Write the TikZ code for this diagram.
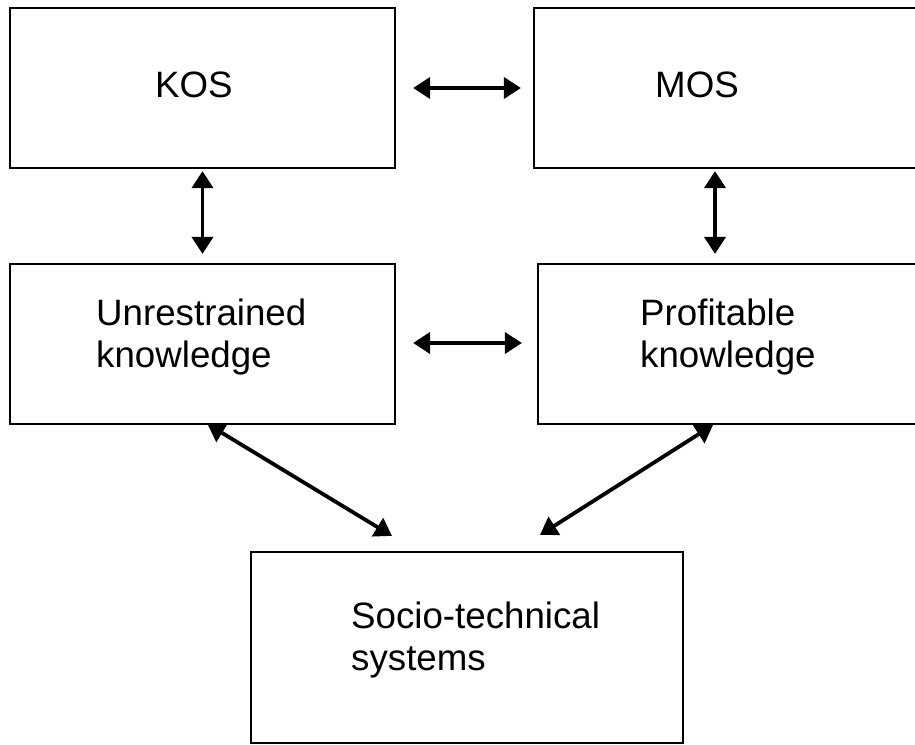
\documentclass[tikz,border=0pt]{standalone}
\usepackage{fontspec}
\setmainfont{Liberation Sans}
\usetikzlibrary{arrows.meta}
\tikzset{
  boxnode/.style={draw=black, line width=2.2pt, rectangle, inner sep=0pt, fill=none},
  lbl/.style={anchor=base west, inner sep=0pt, font=\fontsize{36.7}{42.2}\selectfont},
  biarrow/.style={line width=3.8pt, {Triangle[length=17pt,width=21pt]}-{Triangle[length=17pt,width=21pt]}}
}
\begin{document}
\begin{tikzpicture}[x=1pt,y=-1pt]
\useasboundingbox (0,0) rectangle (915,744);
\fill[white] (0,0) rectangle (915,744);
% boxes
\node[boxnode, minimum width=385pt, minimum height=160pt] (kos) at (202.5,88) {};
\node[boxnode, minimum width=383pt, minimum height=160pt] (mos) at (725.5,88) {};
\node[boxnode, minimum width=385pt, minimum height=160pt] (unres) at (202.5,344) {};
\node[boxnode, minimum width=379pt, minimum height=160pt] (prof) at (727.5,344) {};
\node[boxnode, minimum width=432pt, minimum height=191pt] (socio) at (467,647.5) {};
% texts
\node[lbl] (tkos) at (155,97) {KOS};
\node[lbl] (tmos) at (655,97) {MOS};
\node[lbl] (tun1) at (96,325) {Unrestrained};
\node[lbl] (tun2) at (96,367) {knowledge};
\node[lbl] (tpr1) at (640,325) {Profitable};
\node[lbl] (tpr2) at (640,367) {knowledge};
\node[lbl] (tso1) at (351,628) {Socio-technical};
\node[lbl] (tso2) at (351,670) {systems};
% connectors
\draw[biarrow, shorten <=17pt, shorten >=12pt] (kos.east) -- (mos.west);
\draw[biarrow, shorten <=2pt, shorten >=9pt] (kos.south) -- (unres.north);
\draw[biarrow, shorten <=2pt, shorten >=9pt] ([xshift=-10.5pt]mos.south) -- ([xshift=-12.5pt]prof.north);
\draw[biarrow, shorten <=17pt, shorten >=15pt] ([yshift=1pt]unres.east) -- ([yshift=1pt]prof.west);
\draw[biarrow] ([xshift=5pt,yshift=1pt]unres.south) -- ([xshift=-75pt,yshift=15pt]socio.north);
\draw[biarrow] ([xshift=-14.5pt]prof.south) -- ([xshift=73pt,yshift=16pt]socio.north);
\end{tikzpicture}
\end{document}
